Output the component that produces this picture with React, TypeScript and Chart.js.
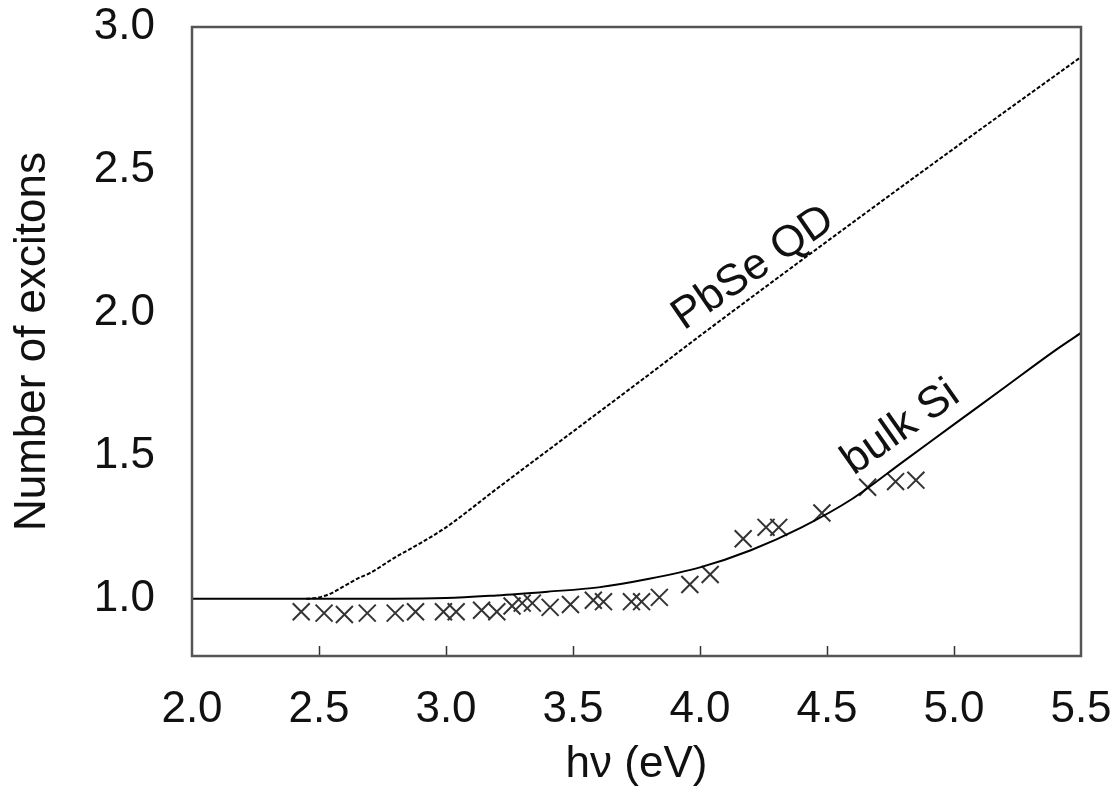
import React, { useEffect, useRef } from "react";
import { Chart, registerables } from "chart.js";

Chart.register(...registerables);

// ---- data ----
const bulkSiX = [2.0, 2.5, 3.0, 3.2, 3.4, 3.6, 3.8, 4.0, 4.2, 4.4, 4.6, 4.8, 5.0, 5.2, 5.4, 5.5];
const bulkSiY = [1.0, 1.0, 1.003, 1.012, 1.025, 1.04, 1.07, 1.11, 1.17, 1.25, 1.35, 1.48, 1.61, 1.74, 1.87, 1.93];

const pbseX = [2.45, 2.5, 2.55, 2.6, 2.65, 2.7, 2.8, 2.9, 3.0, 3.2, 3.5, 3.8, 4.0, 4.5, 5.0, 5.5];
const pbseY = [1.0, 1.005, 1.02, 1.045, 1.07, 1.09, 1.145, 1.195, 1.25, 1.385, 1.585, 1.785, 1.92, 2.25, 2.575, 2.895];

const measX = [2.43, 2.52, 2.6, 2.69, 2.8, 2.88, 2.99, 3.04, 3.14, 3.2, 3.26, 3.3, 3.34, 3.41, 3.49, 3.58, 3.62, 3.73, 3.77, 3.84, 3.96, 4.04, 4.17, 4.26, 4.31, 4.48, 4.66, 4.77, 4.85];
const measY = [0.955, 0.95, 0.945, 0.95, 0.95, 0.955, 0.955, 0.955, 0.96, 0.955, 0.975, 0.985, 0.985, 0.97, 0.98, 0.995, 0.99, 0.99, 0.99, 1.005, 1.05, 1.085, 1.21, 1.25, 1.25, 1.3, 1.39, 1.41, 1.415];

const xTicks = [2.0, 2.5, 3.0, 3.5, 4.0, 4.5, 5.0, 5.5];
const yTicks = [1.0, 1.5, 2.0, 2.5, 3.0];

const curveLabels = ["PbSe QD", "bulk Si"];
const curveLabelX = [4.21, 4.79];
const curveLabelY = [2.157, 1.598];
const curveLabelAngle = [-34.5, -35];

const FONT = "'Liberation Sans', Arial, Helvetica, sans-serif";

const framePlugin = {
  id: "frameAndLabels",
  afterDraw(chart: any) {
    const { ctx, chartArea } = chart;
    const xs = chart.scales.x;
    const ys = chart.scales.y;
    ctx.save();
    // inward ticks on the bottom axis
    ctx.strokeStyle = "#333";
    ctx.lineWidth = 1.5;
    xTicks.forEach((v) => {
      if (v <= xTicks[0] || v >= xTicks[xTicks.length - 1]) return;
      const px = Math.round(xs.getPixelForValue(v)) + 0.5;
      ctx.beginPath();
      ctx.moveTo(px, chartArea.bottom);
      ctx.lineTo(px, chartArea.bottom - 10);
      ctx.stroke();
    });
    // frame
    ctx.strokeStyle = "#555";
    ctx.lineWidth = 2.5;
    ctx.strokeRect(chartArea.left, chartArea.top, chartArea.right - chartArea.left, chartArea.bottom - chartArea.top);
    // curve labels
    ctx.fillStyle = "#111";
    ctx.font = `44px ${FONT}`;
    ctx.textAlign = "center";
    ctx.textBaseline = "middle";
    curveLabels.forEach((t, i) => {
      const px = xs.getPixelForValue(curveLabelX[i]);
      const py = ys.getPixelForValue(curveLabelY[i]);
      ctx.save();
      ctx.translate(px, py);
      ctx.rotate((curveLabelAngle[i] * Math.PI) / 180);
      ctx.fillText(t, 0, 0);
      ctx.restore();
    });
    ctx.restore();
  },
};

export default function App() {
  const ref = useRef<HTMLCanvasElement | null>(null);
  useEffect(() => {
    if (!ref.current) return;
    const chart = new Chart(ref.current, {
      type: "scatter",
      data: {
        datasets: [
          {
            label: "bulk Si",
            type: "line",
            data: bulkSiX.map((x, i) => ({ x, y: bulkSiY[i] })),
            borderColor: "#000",
            borderWidth: 2,
            pointRadius: 0,
            cubicInterpolationMode: "monotone",
            fill: false,
          },
          {
            label: "PbSe QD",
            type: "line",
            data: pbseX.map((x, i) => ({ x, y: pbseY[i] })),
            borderColor: "#000",
            borderWidth: 2,
            borderDash: [4, 2],
            pointRadius: 0,
            cubicInterpolationMode: "monotone",
            fill: false,
          },
          {
            label: "measured",
            data: measX.map((x, i) => ({ x, y: measY[i] })),
            pointStyle: "crossRot",
            pointRadius: 12,
            borderColor: "#333",
            backgroundColor: "#333",
            pointBorderWidth: 2,
            borderWidth: 2,
          },
        ],
      } as any,
      options: {
        responsive: false,
        animation: false,
        layout: { padding: { top: 27, right: 36, left: 0, bottom: 0 } },
        plugins: { legend: { display: false }, tooltip: { enabled: false } },
        scales: {
          x: {
            type: "linear",
            min: 2.0,
            max: 5.5,
            grid: { display: false },
            border: { display: false },
            afterBuildTicks: (s: any) => {
              s.ticks = xTicks.map((v) => ({ value: v }));
            },
            afterFit: (s: any) => {
              s.height = 139;
              s.paddingLeft = 0;
              s.paddingRight = 0;
            },
            ticks: {
              padding: 19,
              color: "#111",
              font: { size: 44, family: FONT },
              maxRotation: 0,
              autoSkip: false,
              callback: (v: any) => Number(v).toFixed(1),
            },
            title: {
              display: true,
              text: "hν (eV)",
              color: "#111",
              font: { size: 44, family: FONT },
              padding: { top: 0, bottom: 4 },
            },
          },
          y: {
            type: "linear",
            min: 0.8,
            max: 3.0,
            grid: { display: false },
            border: { display: false },
            afterBuildTicks: (s: any) => {
              s.ticks = yTicks.map((v) => ({ value: v }));
            },
            afterFit: (s: any) => {
              s.width = 192;
              s.paddingTop = 0;
              s.paddingBottom = 0;
            },
            ticks: {
              padding: 29,
              color: "#111",
              font: { size: 44, family: FONT },
              autoSkip: false,
              callback: (v: any) => Number(v).toFixed(1),
            },
            title: {
              display: true,
              text: "Number of excitons",
              color: "#111",
              font: { size: 44, family: FONT },
              padding: { top: 6, bottom: 0 },
            },
          },
        },
      } as any,
      plugins: [framePlugin],
    });
    return () => chart.destroy();
  }, []);
  return (
    <div style={{ position: "fixed", left: 0, top: 0, width: 1117, height: 795, background: "#fff" }}>
      <canvas ref={ref} width={1117} height={795} style={{ display: "block" }} />
    </div>
  );
}
